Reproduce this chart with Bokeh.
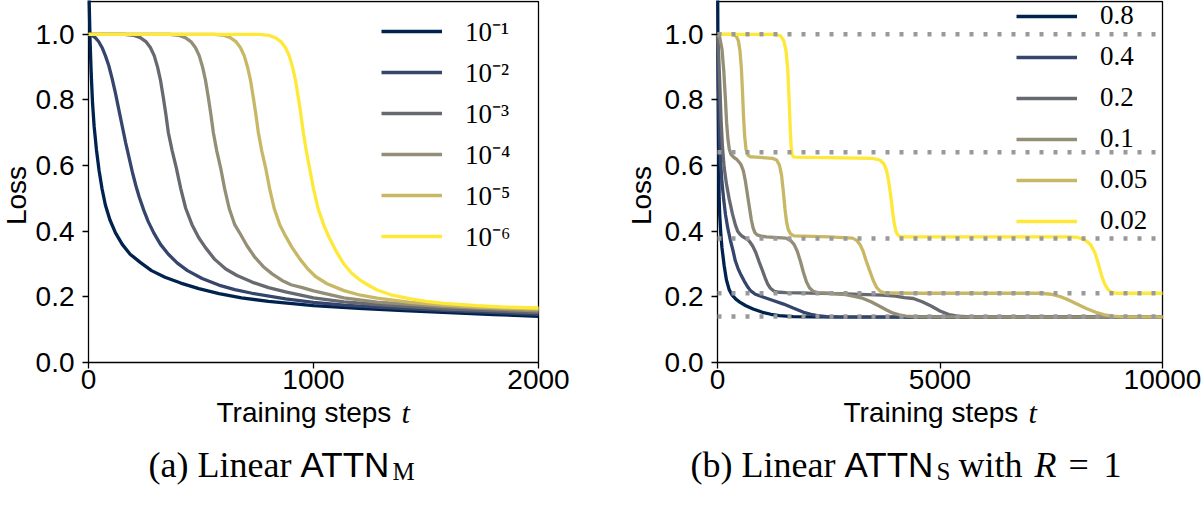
import math

from bokeh.core.properties import value
from bokeh.embed import file_html
from bokeh.layouts import row
from bokeh.models import (FixedTicker, Legend, LegendItem, PrintfTickFormatter,
                          Range1d)
from bokeh.plotting import figure
from bokeh.resources import INLINE

SERIF = "Liberation Serif"
SANS = "Liberation Sans"
PALETTE = ["#00224e", "#35456c", "#666970", "#948e77", "#c8b866", "#fee838"]

loss_ticks = [0.0, 0.2, 0.4, 0.6, 0.8, 1.0]
loss_top = 1.1
steps_ticks_a = [0, 1000, 2000]
steps_ticks_b = [0, 5000, 10000]

# ---- (a) Linear ATTN_M : initialisation scales ----
init_labels = ["10⁻¹", "10⁻²", "10⁻³", "10⁻⁴", "10⁻⁵", "10⁻⁶"]

a1_t = [0, 3, 7, 12, 18, 25, 35, 47, 60, 75, 95, 120, 150, 185, 230, 280, 340, 410, 490, 580,
        680, 800, 1000, 1200, 1400, 1600, 1800, 2000]
a1_loss = [1.25, 1.1, 0.98, 0.88, 0.79, 0.72, 0.65, 0.585, 0.53, 0.48, 0.435, 0.395, 0.36, 0.33,
           0.305, 0.28, 0.26, 0.242, 0.225, 0.21, 0.197, 0.186, 0.173, 0.165, 0.158, 0.152, 0.146,
           0.141]

a2_t = [0, 15, 30, 45, 60, 75, 90, 105, 120, 135, 150, 165, 180, 195, 210, 225, 245, 265, 290, 320,
        355, 395, 440, 505, 579, 650, 727, 876, 1000, 1135, 1300, 1600, 2000]
a2_loss = [1.0, 0.997, 0.99, 0.978, 0.96, 0.935, 0.905, 0.865, 0.82, 0.77, 0.72, 0.67, 0.625, 0.58,
           0.54, 0.505, 0.465, 0.43, 0.395, 0.36, 0.33, 0.303, 0.28, 0.256, 0.236, 0.222, 0.211,
           0.194, 0.183, 0.175, 0.168, 0.158, 0.147]

a3_t = [0, 160, 200, 230, 255, 275, 292, 307, 320, 332, 343, 355, 372, 390, 410, 432, 460, 490, 520,
        560, 610, 660, 727, 800, 876, 1000, 1135, 1300, 1600, 2000]
a3_loss = [1.0, 1.0, 0.997, 0.99, 0.978, 0.96, 0.935, 0.90, 0.86, 0.81, 0.76, 0.70, 0.645, 0.594,
           0.53, 0.47, 0.42, 0.38, 0.35, 0.315, 0.285, 0.265, 0.245, 0.228, 0.215, 0.197, 0.185,
           0.176, 0.163, 0.152]

a4_t = [0, 360, 400, 430, 455, 475, 492, 507, 520, 532, 543, 555, 570, 587, 605, 625, 650, 676, 705,
        740, 780, 816, 860, 900, 950, 1000, 1135, 1283, 1580, 2000]
a4_loss = [1.0, 1.0, 0.997, 0.99, 0.978, 0.96, 0.935, 0.90, 0.86, 0.81, 0.76, 0.70, 0.645, 0.594,
           0.53, 0.47, 0.42, 0.39, 0.355, 0.32, 0.29, 0.27, 0.25, 0.237, 0.228, 0.218, 0.197,
           0.184, 0.170, 0.157]

a5_t = [0, 560, 600, 630, 655, 675, 692, 707, 720, 732, 743, 755, 770, 787, 805, 825, 850, 876, 905,
        940, 975, 1009, 1060, 1135, 1209, 1283, 1431, 1580, 1728, 2000]
a5_loss = [1.0, 1.0, 0.997, 0.99, 0.978, 0.96, 0.935, 0.90, 0.86, 0.81, 0.76, 0.70, 0.645, 0.594,
           0.53, 0.47, 0.42, 0.385, 0.35, 0.315, 0.285, 0.262, 0.24, 0.219, 0.205, 0.196, 0.183,
           0.175, 0.169, 0.163]

a6_t = [0, 760, 800, 830, 855, 875, 892, 907, 920, 932, 943, 955, 968, 982, 1000, 1020, 1045, 1070,
        1100, 1135, 1170, 1209, 1250, 1283, 1350, 1431, 1500, 1580, 1728, 1850, 2000]
a6_loss = [1.0, 1.0, 0.997, 0.99, 0.978, 0.96, 0.935, 0.90, 0.86, 0.81, 0.76, 0.70, 0.645, 0.594,
           0.53, 0.47, 0.42, 0.38, 0.34, 0.30, 0.272, 0.25, 0.233, 0.221, 0.205, 0.194, 0.186,
           0.180, 0.173, 0.169, 0.166]

# ---- (b) Linear ATTN_S with R = 1 : initialisation scales ----
scale_labels = ["0.8", "0.4", "0.2", "0.1", "0.05", "0.02"]
plateau_levels = [1.0, 0.641, 0.378, 0.211, 0.140]

b1_t = [0, 5, 10, 15, 22, 30, 37, 50, 75, 100, 150, 200, 262, 330, 412, 500, 637, 800, 1011, 1200,
        1386, 1700, 2135, 10000]
b1_loss = [1.3, 1.1, 0.95, 0.82, 0.70, 0.58, 0.50, 0.45, 0.39, 0.35, 0.295, 0.252, 0.222, 0.205,
           0.193, 0.184, 0.173, 0.163, 0.153, 0.147, 0.143, 0.14, 0.139, 0.138]

b2_t = [0, 10, 20, 35, 50, 70, 100, 140, 180, 230, 292, 350, 400, 460, 517, 600, 680, 741, 850,
        1036, 1250, 1485, 1700, 1935, 2100, 2247, 2450, 2700, 10000]
b2_loss = [1.0, 0.92, 0.85, 0.76, 0.68, 0.61, 0.55, 0.495, 0.45, 0.41, 0.371, 0.34, 0.31, 0.287,
           0.27, 0.248, 0.23, 0.219, 0.208, 0.199, 0.189, 0.178, 0.166, 0.153, 0.147, 0.143, 0.14,
           0.139, 0.138]

b3_t = [0, 25, 52, 80, 110, 150, 200, 260, 337, 400, 450, 510, 562, 640, 712, 790, 861, 940, 1011,
        1070, 1124, 1190, 1273, 1400, 1535, 2884, 3700, 4000, 4200, 4400, 4600, 4800, 5000, 5200,
        5400, 5700, 10000]
b3_loss = [1.0, 0.94, 0.847, 0.74, 0.66, 0.594, 0.545, 0.50, 0.452, 0.42, 0.401, 0.39, 0.384, 0.378,
           0.37, 0.355, 0.335, 0.305, 0.28, 0.258, 0.24, 0.226, 0.217, 0.214, 0.213, 0.209, 0.205,
           0.202, 0.198, 0.195, 0.185, 0.172, 0.157, 0.146, 0.141, 0.139, 0.138]

b4_t = [0, 50, 100, 140, 175, 205, 235, 265, 300, 360, 440, 520, 580, 630, 675, 720, 760, 800, 840,
        890, 980, 1100, 1535, 1640, 1720, 1790, 1860, 1930, 2000, 2070, 2150, 2250, 2509, 2884,
        3258, 3450, 3633, 3800, 3932, 4080, 4232, 4500, 10000]
b4_loss = [1.0, 0.99, 0.955, 0.89, 0.81, 0.73, 0.68, 0.65, 0.635, 0.626, 0.618, 0.605, 0.585, 0.55,
           0.51, 0.47, 0.435, 0.41, 0.396, 0.389, 0.385, 0.383, 0.379, 0.372, 0.36, 0.34, 0.31,
           0.275, 0.245, 0.227, 0.217, 0.213, 0.211, 0.207, 0.196, 0.185, 0.172, 0.16, 0.151, 0.145,
           0.141, 0.139, 0.138]

b5_t = [0, 330, 420, 470, 505, 535, 560, 585, 610, 640, 680, 740, 861, 1236, 1330, 1395, 1440, 1480,
        1515, 1550, 1590, 1640, 1720, 2509, 3033, 3130, 3200, 3270, 3340, 3420, 3500, 3580, 3660,
        3760, 4382, 7258, 7500, 7700, 7900, 8100, 8300, 8500, 8700, 8900, 9100, 10000]
b5_loss = [1.0, 1.0, 0.995, 0.98, 0.95, 0.90, 0.83, 0.75, 0.69, 0.65, 0.632, 0.627, 0.626, 0.622,
           0.617, 0.60, 0.57, 0.52, 0.47, 0.43, 0.405, 0.392, 0.386, 0.383, 0.379, 0.372, 0.36,
           0.34, 0.31, 0.28, 0.25, 0.228, 0.217, 0.212, 0.211, 0.211, 0.208, 0.201, 0.19, 0.177,
           0.164, 0.153, 0.145, 0.141, 0.139, 0.139]

b6_t = [0, 1300, 1420, 1490, 1540, 1580, 1610, 1635, 1655, 1675, 1700, 1740, 2135, 3483, 3650, 3740,
        3800, 3850, 3895, 3935, 3970, 4010, 4045, 4090, 4160, 7900, 8100, 8250, 8380, 8480, 8560,
        8630, 8700, 8770, 8850, 8950, 10000]
b6_loss = [1.0, 1.0, 0.995, 0.98, 0.95, 0.89, 0.80, 0.71, 0.66, 0.635, 0.627, 0.626, 0.625, 0.622,
           0.617, 0.605, 0.585, 0.55, 0.505, 0.46, 0.425, 0.40, 0.39, 0.385, 0.383, 0.383, 0.381,
           0.374, 0.36, 0.335, 0.30, 0.265, 0.24, 0.223, 0.214, 0.211, 0.211]

series_a = [(a1_t, a1_loss), (a2_t, a2_loss), (a3_t, a3_loss),
            (a4_t, a4_loss), (a5_t, a5_loss), (a6_t, a6_loss)]
series_b = [(b1_t, b1_loss), (b2_t, b2_loss), (b3_t, b3_loss),
            (b4_t, b4_loss), (b5_t, b5_loss), (b6_t, b6_loss)]

# Page geometry in pixels (from the top-left of the page).  Each panel's plot
# frame fills its whole canvas; the axes box sits inside it, so tick labels,
# titles and captions are drawn in the same canvas.
PAGE_H = 505
AXES_TOP = 1
AXES_BOTTOM = 362
PX_PER_LOSS = (AXES_BOTTOM - AXES_TOP) / loss_top


def make_panel(page_left, width, x_end, box_left, box_right, xticks):
    per_px = x_end / (box_right - box_left)
    xr = Range1d((page_left - box_left) * per_px, (page_left + width - box_left) * per_px)
    yr = Range1d(-(PAGE_H - AXES_BOTTOM) / PX_PER_LOSS, AXES_BOTTOM / PX_PER_LOSS)
    p = figure(width=width, height=PAGE_H, x_range=xr, y_range=yr,
               output_backend="svg", toolbar_location=None, min_border=0,
               background_fill_color="white", border_fill_color="white",
               outline_line_color=None)
    # page-pixel coordinates for titles and captions
    p.extra_x_ranges = {"px": Range1d(page_left, page_left + width)}
    p.extra_y_ranges = {"px": Range1d(PAGE_H, 0)}
    p.grid.visible = False
    p.xaxis.fixed_location = 0
    p.yaxis.fixed_location = 0
    p.xaxis.ticker = FixedTicker(ticks=xticks)
    p.yaxis.ticker = FixedTicker(ticks=loss_ticks)
    p.xaxis.formatter = PrintfTickFormatter(format="%d")
    p.yaxis.formatter = PrintfTickFormatter(format="%.1f")
    for ax in (p.xaxis[0], p.yaxis[0]):
        ax.axis_line_color = None
        ax.major_tick_in = 0
        ax.major_tick_out = 6
        ax.minor_tick_in = 0
        ax.minor_tick_out = 0
        ax.major_tick_line_width = 1.3
        ax.major_label_text_font = SANS
        ax.major_label_text_font_size = "28px"
        ax.major_label_text_color = "black"
    p.xaxis.major_label_standoff = 1
    p.yaxis.major_label_standoff = 8
    # axes box (spines)
    p.quad(left=[0], right=[x_end], bottom=[0], top=[loss_top], fill_alpha=0,
           line_color="black", line_width=1.3)
    return p


def put(p, xs, ys, texts, font, size, style="normal", angle=0.0, align="left",
        baseline="alphabetic"):
    p.text(x=xs, y=ys, text=texts, x_range_name="px", y_range_name="px",
           text_font=value(font), text_font_size=size, text_font_style=style,
           angle=angle, text_color="black", text_align=align, text_baseline=baseline)


def titles(p, loss_x, steps_x, t_x):
    put(p, [loss_x], [195], ["Loss"], SANS, "28px", angle=math.pi / 2,
        align="center", baseline="middle")
    put(p, [steps_x], [412], ["Training steps"], SANS, "28px")
    put(p, [t_x], [412], ["t"], SERIF, "30px", "italic")


def add_legend(p, renderers, labels, vx, vy, spacing):
    items = [LegendItem(label=value(lab), renderers=[r]) for lab, r in zip(labels, renderers)]
    leg = Legend(items=items, location=(vx, vy), glyph_width=61,
                 glyph_height=30, label_height=30, spacing=spacing, padding=0, margin=0,
                 label_standoff=23, border_line_color=None, background_fill_alpha=0,
                 label_text_font=SERIF, label_text_font_size="27px",
                 label_text_color="black")
    p.add_layout(leg)


BASE = 464   # caption baseline
SUB = 471    # subscript baseline

# ---- panel (a) ----
pa = make_panel(0, 600, 2000, 88, 538, steps_ticks_a)
rend_a = [pa.line(t, loss, line_color=c, line_width=3.3)
          for (t, loss), c in zip(series_a, PALETTE)]
add_legend(pa, rend_a, init_labels, 381, 251, 4)
titles(pa, 16, 216, 401)
put(pa, [148], [BASE], ["(a) Linear"], SERIF, "36px")
put(pa, [300], [BASE], ["ATTN"], SANS, "35px")
put(pa, [392], [SUB], ["M"], SERIF, "25px")

# ---- panel (b) ----
pb = make_panel(600, 602, 10000, 717, 1162, steps_ticks_b)
rend_b = [pb.line(t, loss, line_color=c, line_width=3.3)
          for (t, loss), c in zip(series_b, PALETTE)]
# loss plateaus, dotted, drawn over the curves
pb.segment(x0=[0] * len(plateau_levels), x1=[10000] * len(plateau_levels),
           y0=plateau_levels, y1=plateau_levels, line_color="#999999",
           line_width=4.5, line_dash="4 10")
add_legend(pb, rend_b, scale_labels, 416, 269, 10)
titles(pb, 641, 843, 1028)
put(pb, [690, 958, 1068, 1103], [BASE] * 4, ["(b) Linear", "with", "=", "1"], SERIF, "36px")
put(pb, [844], [BASE], ["ATTN"], SANS, "35px")
put(pb, [936], [SUB], ["S"], SERIF, "25px")
put(pb, [1034], [BASE], ["R"], SERIF, "36px", "italic")

layout = row(pa, pb)
open("out.html", "w").write(file_html(layout, INLINE))
